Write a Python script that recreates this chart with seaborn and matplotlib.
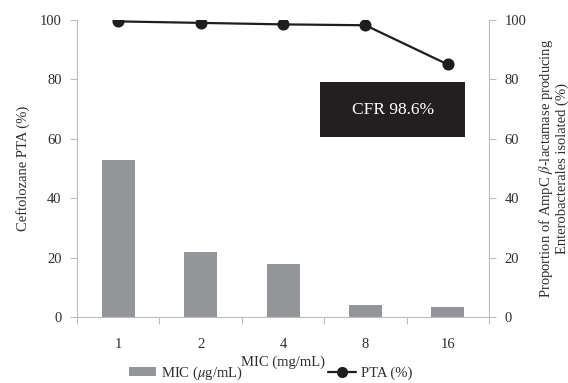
import matplotlib
matplotlib.use("Agg")
import matplotlib.pyplot as plt
import seaborn as sns
import pandas as pd
from matplotlib.patches import Rectangle, Patch
from matplotlib.lines import Line2D

mic_labels = ["1", "2", "4", "8", "16"]
isolates_pct = [52.8, 22.0, 17.8, 4.1, 3.3]
pta_pct = [99.5, 99.0, 98.5, 98.2, 85.0]
y_ticks = [0, 20, 40, 60, 80, 100]

sns.set_theme(style="white")
plt.rcParams["font.family"] = ["Liberation Serif", "DejaVu Serif"]
plt.rcParams["mathtext.fontset"] = "stix"

df = pd.DataFrame({"mic": mic_labels, "iso": isolates_pct, "pta": pta_pct})

fig = plt.figure(figsize=(5.68, 3.83), dpi=100)
ax = fig.add_axes([0.1356, 0.172, 0.7254, 0.776])

bar_col = "#939598"
line_col = "#1e1e1e"
spine_col = "#bdbdbd"
txt_col = "#2e2e2e"

sns.barplot(data=df, x="mic", y="iso", color=bar_col, width=0.4, ax=ax,
            saturation=1, edgecolor="none")
sns.pointplot(data=df, x="mic", y="pta", color=line_col, ax=ax,
              markers="o", linestyles="-", markersize=7.5, linewidth=1.6)

ax.set_xlim(-0.5, len(mic_labels) - 0.5)
ax.set_ylim(0, 100)
ax.set_yticks(y_ticks)
ax.tick_params(axis="y", length=5, width=0.8, color=spine_col, labelsize=10.5,
               labelcolor=txt_col, pad=6, left=True, direction="out")
ax.set_xticks(range(len(mic_labels)))
ax.set_xticklabels(mic_labels)
ax.set_xticks([i - 0.5 for i in range(len(mic_labels) + 1)], minor=True)
ax.tick_params(axis="x", which="major", length=0, pad=15, labelsize=10.5, labelcolor=txt_col)
ax.tick_params(axis="x", which="minor", length=5, width=0.8, color=spine_col, bottom=True,
               direction="out")
for s in ["top", "right"]:
    ax.spines[s].set_visible(False)
for s in ["left", "bottom"]:
    ax.spines[s].set_color(spine_col)
    ax.spines[s].set_linewidth(0.8)
ax.set_xlabel("MIC (mg/mL)", fontsize=10.5, color=txt_col, labelpad=3)
ax.set_ylabel("Ceftolozane PTA (%)", fontsize=10.5, color=txt_col, labelpad=7)

ax2 = ax.twinx()
ax2.set_ylim(0, 100)
ax2.set_yticks(y_ticks)
ax2.tick_params(axis="y", length=5, width=0.8, color=spine_col, labelsize=10.5,
                labelcolor=txt_col, pad=6, right=True, direction="out")
for s in ["top", "left", "bottom"]:
    ax2.spines[s].set_visible(False)
ax2.spines["right"].set_color(spine_col)
ax2.spines["right"].set_linewidth(0.8)
ax2.set_ylabel("Proportion of AmpC $\\beta$-lactamase producing\nEnterobacterales isolated (%)",
               fontsize=10.5, color=txt_col, labelpad=8, linespacing=1.05)
ax2.grid(False)
ax.grid(False)

ax.add_patch(Rectangle((0.590, 0.606), 0.352, 0.185, transform=ax.transAxes,
                       facecolor="#231f20", edgecolor="none", zorder=5))
ax.text(0.766, 0.698, "CFR 98.6%", transform=ax.transAxes, ha="center", va="center",
        color="white", fontsize=12.5, zorder=6)

handles = [Patch(facecolor=bar_col, edgecolor="none"),
           Line2D([], [], color=line_col, marker="o", markersize=7, linewidth=1.6)]
fig.legend(handles, ["MIC ($\\mu$g/mL)", "PTA (%)"], loc="center",
           bbox_to_anchor=(0.476, 1 - 373 / 383), ncol=2, frameon=False, fontsize=10.5,
           handlelength=1.9, handleheight=0.6, columnspacing=5.8, handletextpad=0.35,
           labelcolor=txt_col, borderpad=0.1)

fig.savefig("out.png", dpi=100, facecolor="white")
